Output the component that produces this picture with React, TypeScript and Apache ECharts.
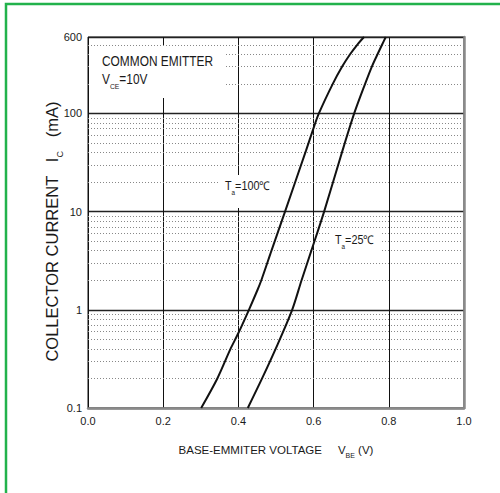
import React, { useEffect, useRef } from "react";
import * as echarts from "echarts";

// Data (VBE in volts, IC in mA)
const vbe100: number[] = [0.301, 0.344, 0.379, 0.400, 0.428, 0.451, 0.461, 0.488, 0.524, 0.580, 0.601, 0.614, 0.651, 0.676, 0.697, 0.716, 0.734];
const ic100: number[] = [0.1, 0.2, 0.4, 0.58, 1, 1.6, 2, 4, 10, 42, 73, 100, 200, 300, 400, 500, 600];

const vbe25: number[] = [0.425, 0.463, 0.499, 0.543, 0.568, 0.594, 0.628, 0.677, 0.708, 0.737, 0.755, 0.770, 0.782, 0.792];
const ic25: number[] = [0.1, 0.2, 0.4, 1, 2, 4, 10, 42, 100, 200, 300, 400, 500, 600];

// Axis ticks
const xTicks: number[] = [0, 0.2, 0.4, 0.6, 0.8, 1.0];
const yMin = 0.1;
const yMax = 600;
const minorY: number[] = [
  0.2, 0.3, 0.4, 0.5, 0.6, 0.7, 0.8, 0.9,
  2, 3, 4, 5, 6, 7, 8, 9,
  20, 30, 40, 50, 60, 70, 80, 90,
  200, 300, 400, 500,
];

const FONT = "'Liberation Sans', Arial, sans-serif";
const TXT = "#1a1a1a";

export default function App() {
  const ref = useRef<HTMLDivElement>(null);

  useEffect(() => {
    if (!ref.current) return;
    const chart = echarts.init(ref.current, undefined, { renderer: "svg" });

    const d100 = vbe100.map((v, i) => [v, ic100[i]]);
    const d25 = vbe25.map((v, i) => [v, ic25[i]]);

    const subRich = (fs: number, sfs: number, pad: number) => ({
      n: { fontSize: fs, fontFamily: FONT, fill: TXT, color: TXT, lineHeight: fs + 2, verticalAlign: "top" },
      s: { fontSize: sfs, fontFamily: FONT, fill: TXT, color: TXT, lineHeight: sfs, padding: [pad, 0, 0, 0], verticalAlign: "top" },
    });

    const option: any = {
      animation: false,
      backgroundColor: "#fff",
      grid: {
        left: 88,
        right: 36,
        top: 37,
        bottom: 85,
        show: true,
        borderColor: "#111",
        borderWidth: 1,
        backgroundColor: "#fff",
      },
      xAxis: {
        type: "value",
        min: xTicks[0],
        max: xTicks[xTicks.length - 1],
        interval: 0.2,
        axisLine: { show: true, onZero: false, lineStyle: { color: "#8a8a8a", width: 2.5 } },
        axisTick: { show: false },
        axisLabel: {
          formatter: (v: number) => v.toFixed(1),
          fontSize: 11,
          fontFamily: FONT,
          color: TXT,
          margin: 7,
        },
        splitLine: { show: true, lineStyle: { color: "#111", width: 1 } },
        name: "{n|BASE-EMMITER VOLTAGE     V}{s|BE}{n| (V)}",
        nameLocation: "middle",
        nameMoveOverlap: false,
        nameGap: 36,
        nameTextStyle: { rich: subRich(11.5, 7, 8) },
      },
      yAxis: [
        {
          type: "log",
          logBase: 10,
          min: yMin,
          max: yMax,
          axisLine: { show: false },
          axisTick: { show: false },
          axisLabel: {
            formatter: (v: number) => `${+Number(v).toPrecision(3)}`,
            fontSize: 11,
            fontFamily: FONT,
            color: TXT,
            margin: 6,
          },
          splitLine: { show: true, lineStyle: { color: "#222", width: 1.4 } },
          name: "{n|COLLECTOR CURRENT   I}{s|C}{n|   (mA)    }",
          nameLocation: "middle",
          nameMoveOverlap: false,
          nameGap: 26,
          nameRotate: 90,
          nameTextStyle: {
            rich: {
              n: { fontSize: 16.5, fontFamily: FONT, color: TXT, lineHeight: 19, verticalAlign: "top" },
              s: { fontSize: 9, fontFamily: FONT, color: TXT, lineHeight: 9, padding: [12, 0, 0, 0], verticalAlign: "top" },
            },
          },
        },
        {
          type: "value",
          position: "right",
          min: 0,
          max: 1,
          axisLine: { show: true, lineStyle: { color: "#8a8a8a", width: 2.5 } },
          axisTick: { show: false },
          axisLabel: { show: false },
          splitLine: { show: false },
        },
      ],
      series: [
        {
          type: "line",
          name: "Ta=100",
          data: d100,
          smooth: 0.3,
          symbol: "none",
          lineStyle: { color: "#111", width: 2 },
          z: 5,
          markLine: {
            silent: true,
            symbol: ["none", "none"],
            label: { show: false },
            lineStyle: { type: [1, 2], color: "#888", width: 1 },
            emphasis: { disabled: true },
            data: minorY.map((v) => ({ yAxis: v })),
          },
        },
        {
          type: "line",
          name: "Ta=25",
          data: d25,
          smooth: 0.3,
          symbol: "none",
          lineStyle: { color: "#111", width: 2 },
          z: 5,
        },
      ],
      graphic: [
        {
          type: "rect",
          shape: { x: 6, y: 4, width: 800, height: 800 },
          style: { fill: "none", stroke: "#22b24c", lineWidth: 2.5 },
          z: 200,
          silent: true,
        },
        { type: "rect", shape: { x: 90, y: 46, width: 136, height: 52 }, style: { fill: "#fff" }, z: 100 },
        {
          type: "text",
          x: 102,
          y: 54,
          z: 101,
          scaleX: 0.85,
          style: { text: "COMMON EMITTER", fontSize: 14, fontFamily: FONT, fill: TXT },
        },
        {
          type: "text",
          x: 102,
          y: 72,
          z: 101,
          scaleX: 0.85,
          style: { text: "{n|V}{s|CE}{n|=10V}", rich: subRich(14, 8, 10) },
        },
        { type: "rect", shape: { x: 220, y: 175, width: 60, height: 33 }, style: { fill: "#fff" }, z: 100 },
        {
          type: "text",
          x: 225,
          y: 180,
          z: 101,
          scaleX: 0.9,
          style: { text: "{n|T}{s|a}{n|=100℃}", rich: subRich(12, 7, 9) },
        },
        { type: "rect", shape: { x: 331, y: 231, width: 50, height: 23 }, style: { fill: "#fff" }, z: 100 },
        {
          type: "text",
          x: 335,
          y: 234,
          z: 101,
          scaleX: 0.9,
          style: { text: "{n|T}{s|a}{n|=25℃}", rich: subRich(12, 7, 9) },
        },
      ],
    };

    chart.setOption(option);
    return () => chart.dispose();
  }, []);

  return (
    <div
      ref={ref}
      style={{ position: "absolute", left: 0, top: 0, width: 500, height: 493, background: "#fff" }}
    />
  );
}
